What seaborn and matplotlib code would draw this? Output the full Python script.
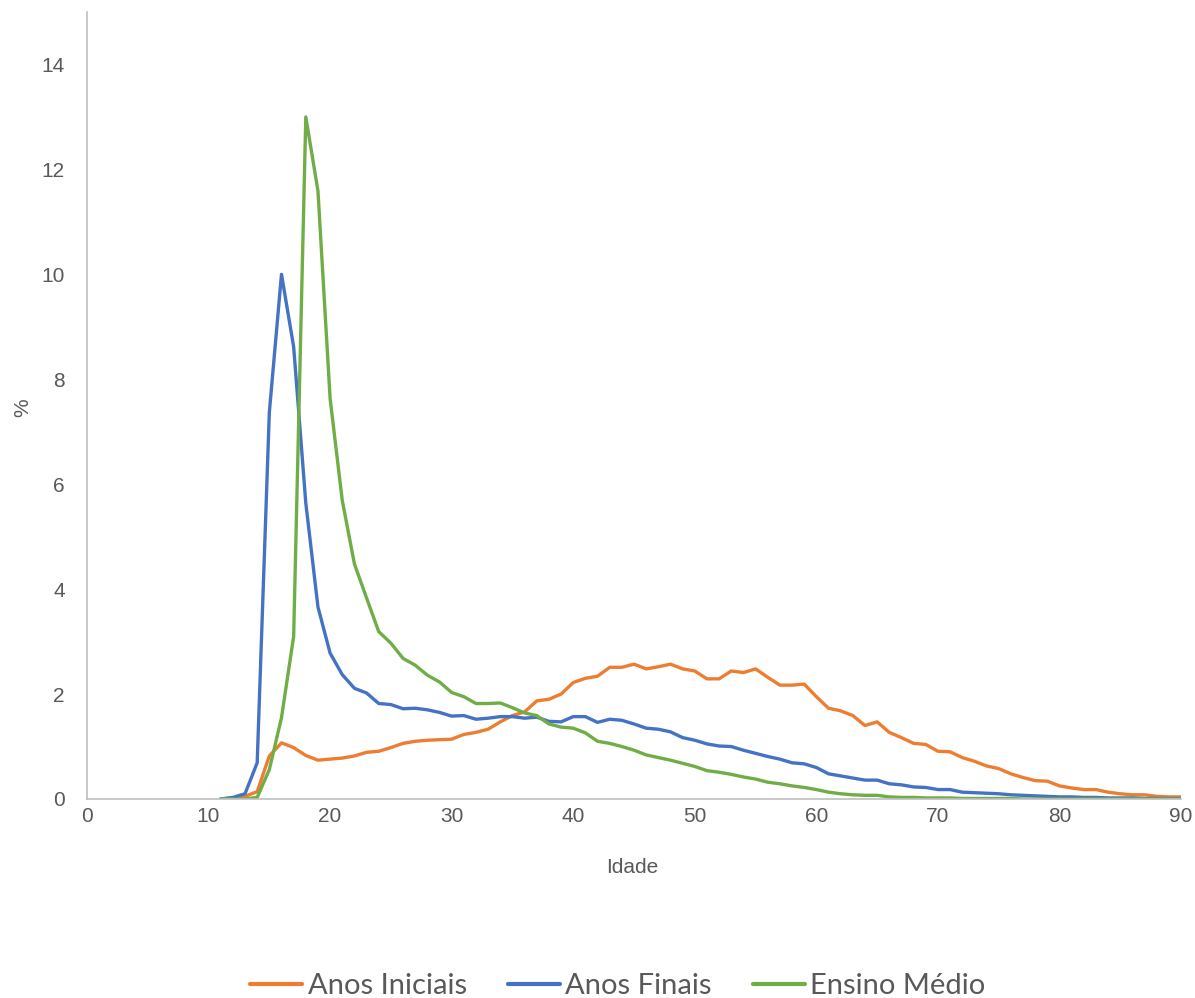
import matplotlib
matplotlib.use("Agg")
import matplotlib.pyplot as plt
import seaborn as sns
import pandas as pd

# idade de 11 a 90 anos
idade = list(range(11, 91))

anos_iniciais = [
    0.00, 0.02, 0.05, 0.14, 0.82, 1.07, 0.98, 0.83, 0.74, 0.76,
    0.78, 0.82, 0.89, 0.91, 0.98, 1.06, 1.10, 1.12, 1.13, 1.14,
    1.23, 1.27, 1.33, 1.47, 1.59, 1.66, 1.87, 1.90, 2.00, 2.22,
    2.30, 2.34, 2.51, 2.51, 2.57, 2.48, 2.52, 2.57, 2.48, 2.44,
    2.29, 2.29, 2.44, 2.41, 2.48, 2.32, 2.17, 2.17, 2.19, 1.95,
    1.73, 1.68, 1.59, 1.40, 1.47, 1.27, 1.17, 1.06, 1.04, 0.91,
    0.90, 0.79, 0.72, 0.63, 0.58, 0.48, 0.41, 0.35, 0.34, 0.25,
    0.21, 0.18, 0.18, 0.13, 0.10, 0.08, 0.08, 0.05, 0.04, 0.04,
]

anos_finais = [
    0.00, 0.03, 0.10, 0.69, 7.37, 10.00, 8.62, 5.64, 3.66, 2.78,
    2.37, 2.11, 2.02, 1.82, 1.80, 1.72, 1.73, 1.70, 1.65, 1.58,
    1.59, 1.52, 1.54, 1.57, 1.57, 1.54, 1.56, 1.48, 1.47, 1.57,
    1.57, 1.46, 1.52, 1.50, 1.43, 1.35, 1.33, 1.28, 1.17, 1.12,
    1.05, 1.01, 1.00, 0.93, 0.87, 0.81, 0.76, 0.69, 0.67, 0.60,
    0.48, 0.44, 0.40, 0.36, 0.36, 0.29, 0.27, 0.23, 0.22, 0.18,
    0.18, 0.13, 0.12, 0.11, 0.10, 0.08, 0.07, 0.06, 0.05, 0.04,
    0.04, 0.03, 0.03, 0.02, 0.02, 0.02, 0.01, 0.01, 0.01, 0.01,
]

ensino_medio = [
    0.00, 0.00, 0.00, 0.03, 0.56, 1.55, 3.10, 13.00, 11.59, 7.63,
    5.69, 4.48, 3.83, 3.19, 2.97, 2.68, 2.55, 2.36, 2.23, 2.03,
    1.95, 1.82, 1.82, 1.83, 1.74, 1.64, 1.59, 1.43, 1.37, 1.35,
    1.26, 1.10, 1.06, 1.00, 0.93, 0.84, 0.79, 0.74, 0.68, 0.62,
    0.54, 0.51, 0.47, 0.42, 0.38, 0.32, 0.29, 0.25, 0.22, 0.18,
    0.13, 0.10, 0.08, 0.07, 0.07, 0.04, 0.03, 0.03, 0.02, 0.02,
    0.02, 0.01, 0.01, 0.01, 0.01, 0.01, 0.00, 0.00, 0.00, 0.00,
    0.00, 0.00, 0.00, 0.00, 0.00, 0.00, 0.00, 0.00, 0.00, 0.00,
]

series = ["Anos Iniciais", "Anos Finais", "Ensino Médio"]
cores = ["#ED7D31", "#4472C4", "#70AD47"]

df = pd.concat([
    pd.DataFrame({"Idade": idade, "pct": anos_iniciais, "serie": series[0]}),
    pd.DataFrame({"Idade": idade, "pct": anos_finais, "serie": series[1]}),
    pd.DataFrame({"Idade": idade, "pct": ensino_medio, "serie": series[2]}),
])

sns.set_style("white")
plt.rcParams["font.family"] = ["Liberation Sans", "DejaVu Sans"]

fig = plt.figure(figsize=(11.95, 9.98), dpi=100)
ax = fig.add_axes([0.0728, 0.1994, 0.9155, 0.7886])

sns.lineplot(data=df, x="Idade", y="pct", hue="serie", hue_order=series,
             palette=cores, linewidth=2.4, ax=ax, legend=False)

ax.set_xlim(0, 90)
ax.set_ylim(0, 15)
ax.set_xticks(range(0, 91, 10))
ax.set_yticks(range(0, 15, 2))
ax.tick_params(axis="both", length=0, labelsize=15, colors="#595959")
ax.tick_params(axis="y", pad=16)
ax.tick_params(axis="x", pad=6)

for s in ["top", "right"]:
    ax.spines[s].set_visible(False)
for s in ["left", "bottom"]:
    ax.spines[s].set_color("#BFBFBF")
    ax.spines[s].set_linewidth(1.2)

ax.set_xlabel("Idade", fontsize=15, color="#595959")
ax.set_ylabel("%", fontsize=15, color="#595959")
ax.xaxis.set_label_coords(0.498, -0.075)
ax.yaxis.set_label_coords(-0.050, 0.497)

handles = [plt.Line2D([], [], color=c, linewidth=3) for c in cores]
fig.legend(handles, series, loc="center", bbox_to_anchor=(0.517, 0.012),
           ncol=3, frameon=False, handlelength=1.8, handletextpad=0.18,
           columnspacing=1.4,
           prop={"family": ["Lato", "DejaVu Sans"], "size": 21},
           labelcolor="#595959")

fig.savefig("out.png", dpi=100)
